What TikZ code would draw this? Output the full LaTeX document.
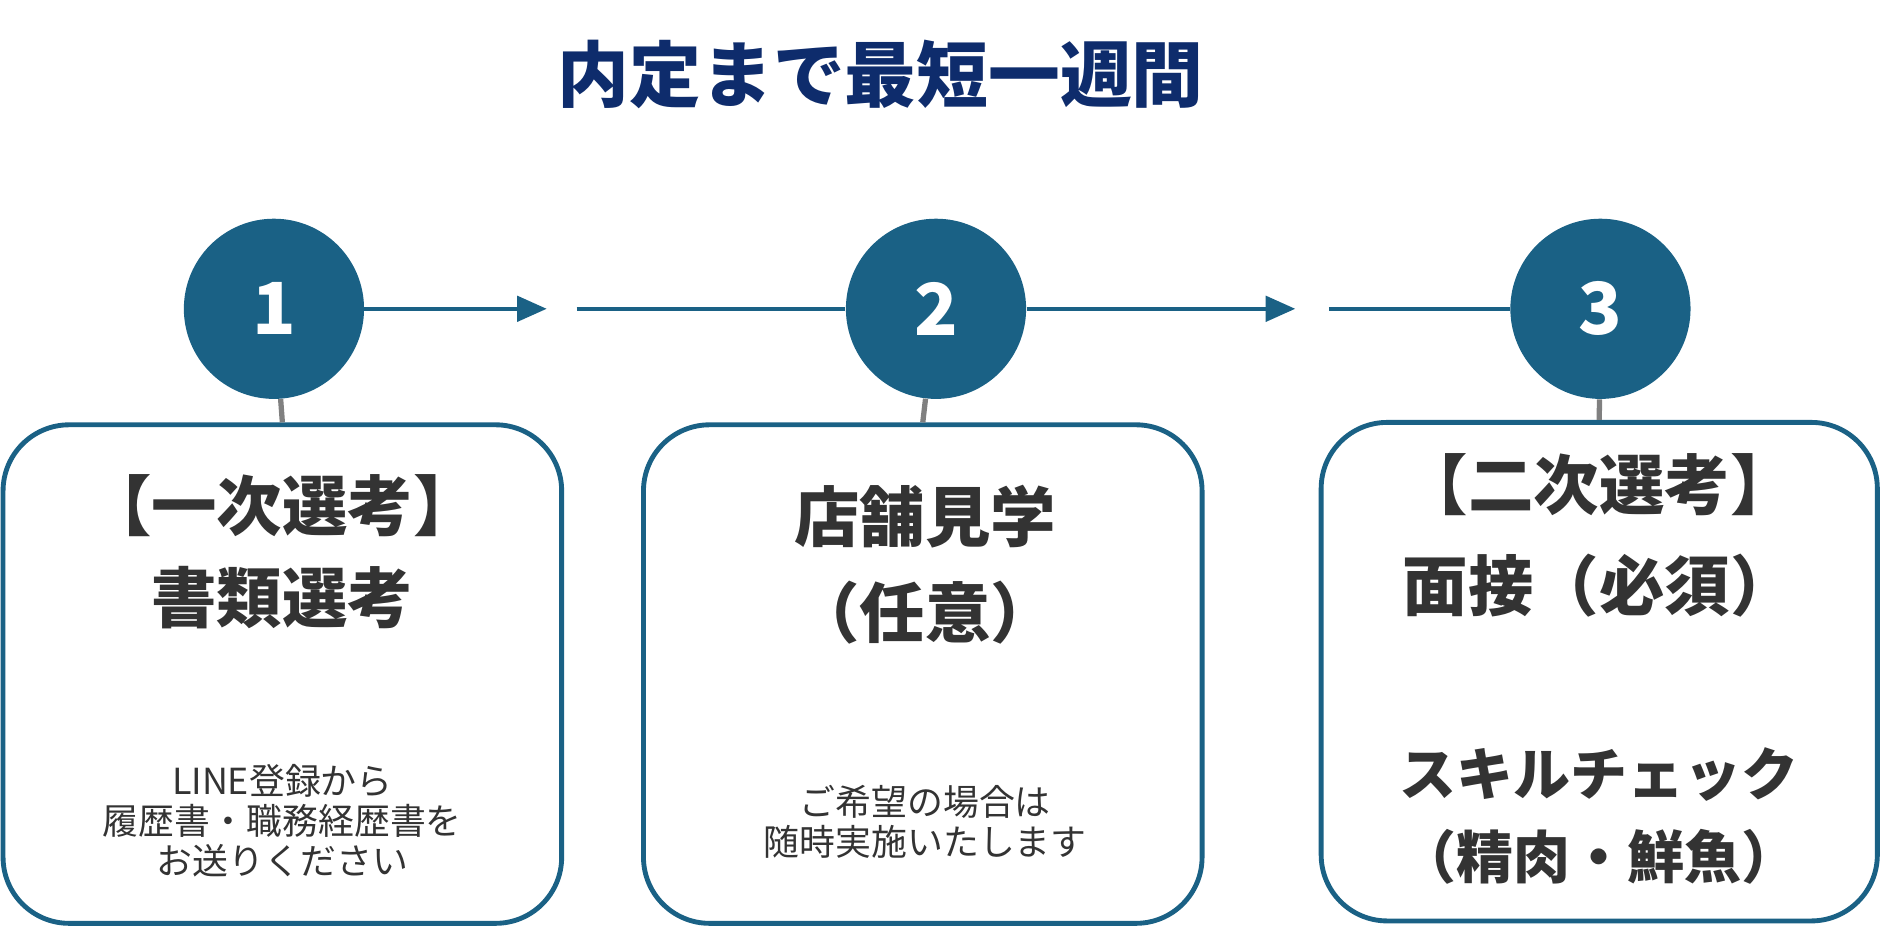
\documentclass[tikz,border=0pt]{standalone}
\usepackage{fontspec}
\setmainfont{Noto Sans CJK JP}
\usetikzlibrary{calc,positioning,arrows.meta}
\definecolor{stepblue}{HTML}{1A6185}
\definecolor{titlenavy}{HTML}{0E2C6C}
\definecolor{bodygray}{HTML}{333333}
\tikzset{
  stepdot/.style={circle,fill=stepblue,minimum size=3cm,inner sep=0pt,text=white,
    font=\fontsize{34}{34}\selectfont\bfseries},
  card/.style={draw=stepblue,line width=2.3pt,rounded corners=1.1cm,fill=white,
    minimum width=9.3cm,minimum height=8.3cm,inner sep=0pt},
  big/.style={text=bodygray,font=\fontsize{31}{31}\selectfont\bfseries},
  small/.style={text=bodygray,font=\fontsize{17}{17}\selectfont,align=center},
  flow/.style={draw=stepblue,line width=1.8pt},
  link/.style={draw=gray,line width=2.5pt}
}
\begin{document}
\begin{tikzpicture}[x=0.02cm,y=-0.02cm]
  \useasboundingbox (0,0) rectangle (1568,792);
  % title
  \node[text=titlenavy,font=\fontsize{34}{34}\selectfont\bfseries] (title) at (733,62) {内定まで最短一週間};
  % steps
  \node[stepdot] (s1) at (228,257) {1};
  \node[stepdot] (s2) at (779,257) {2};
  \node[stepdot] (s3) at (1332,257) {3};
  \coordinate (a1) at (455,257);
  \coordinate (b1) at (480,257);
  \coordinate (a2) at (1078,257);
  \coordinate (b2) at (1106,257);
  \draw[flow,-{Triangle[length=14pt,width=12pt]}] (s1) -- (a1);
  \draw[flow] (b1) -- (s2);
  \draw[flow,-{Triangle[length=14pt,width=12pt]}] (s2) -- (a2);
  \draw[flow] (b2) -- (s3);
  % cards
  \node[card] (c1) at (235,561) {};
  \node[card] (c2) at (768,561) {};
  \node[card,minimum width=9.26cm] (c3) at (1331,559) {};
  \draw[link] (s1) -- (c1.north);
  \draw[link] (s2) -- (c2.north);
  \draw[link] (s3) -- (c3.north);
  % card 1
  \node[big] (t1a) at (235,421) {【一次選考】};
  \node[big] (t1b) at (235,497) {書類選考};
  \node[small] (d1) at (235,683) {LINE登録から\\[2pt]履歴書・職務経歴書を\\[2pt]お送りください};
  % card 2
  \node[big] (t2a) at (770,430) {店舗見学};
  \node[big] (t2b) at (770,510) {（任意）};
  \node[small] (d2) at (770,684) {ご希望の場合は\\[2pt]随時実施いたします};
  % card 3
  \node[big] (t3a) at (1331,403) {【二次選考】};
  \node[big] (t3b) at (1331,487) {面接（必須）};
  \node[big,font=\fontsize{27}{27}\selectfont\bfseries] (t3c) at (1331,645) {スキルチェック};
  \node[big,font=\fontsize{27}{27}\selectfont\bfseries] (t3d) at (1331,713) {（精肉・鮮魚）};
\end{tikzpicture}
\end{document}
